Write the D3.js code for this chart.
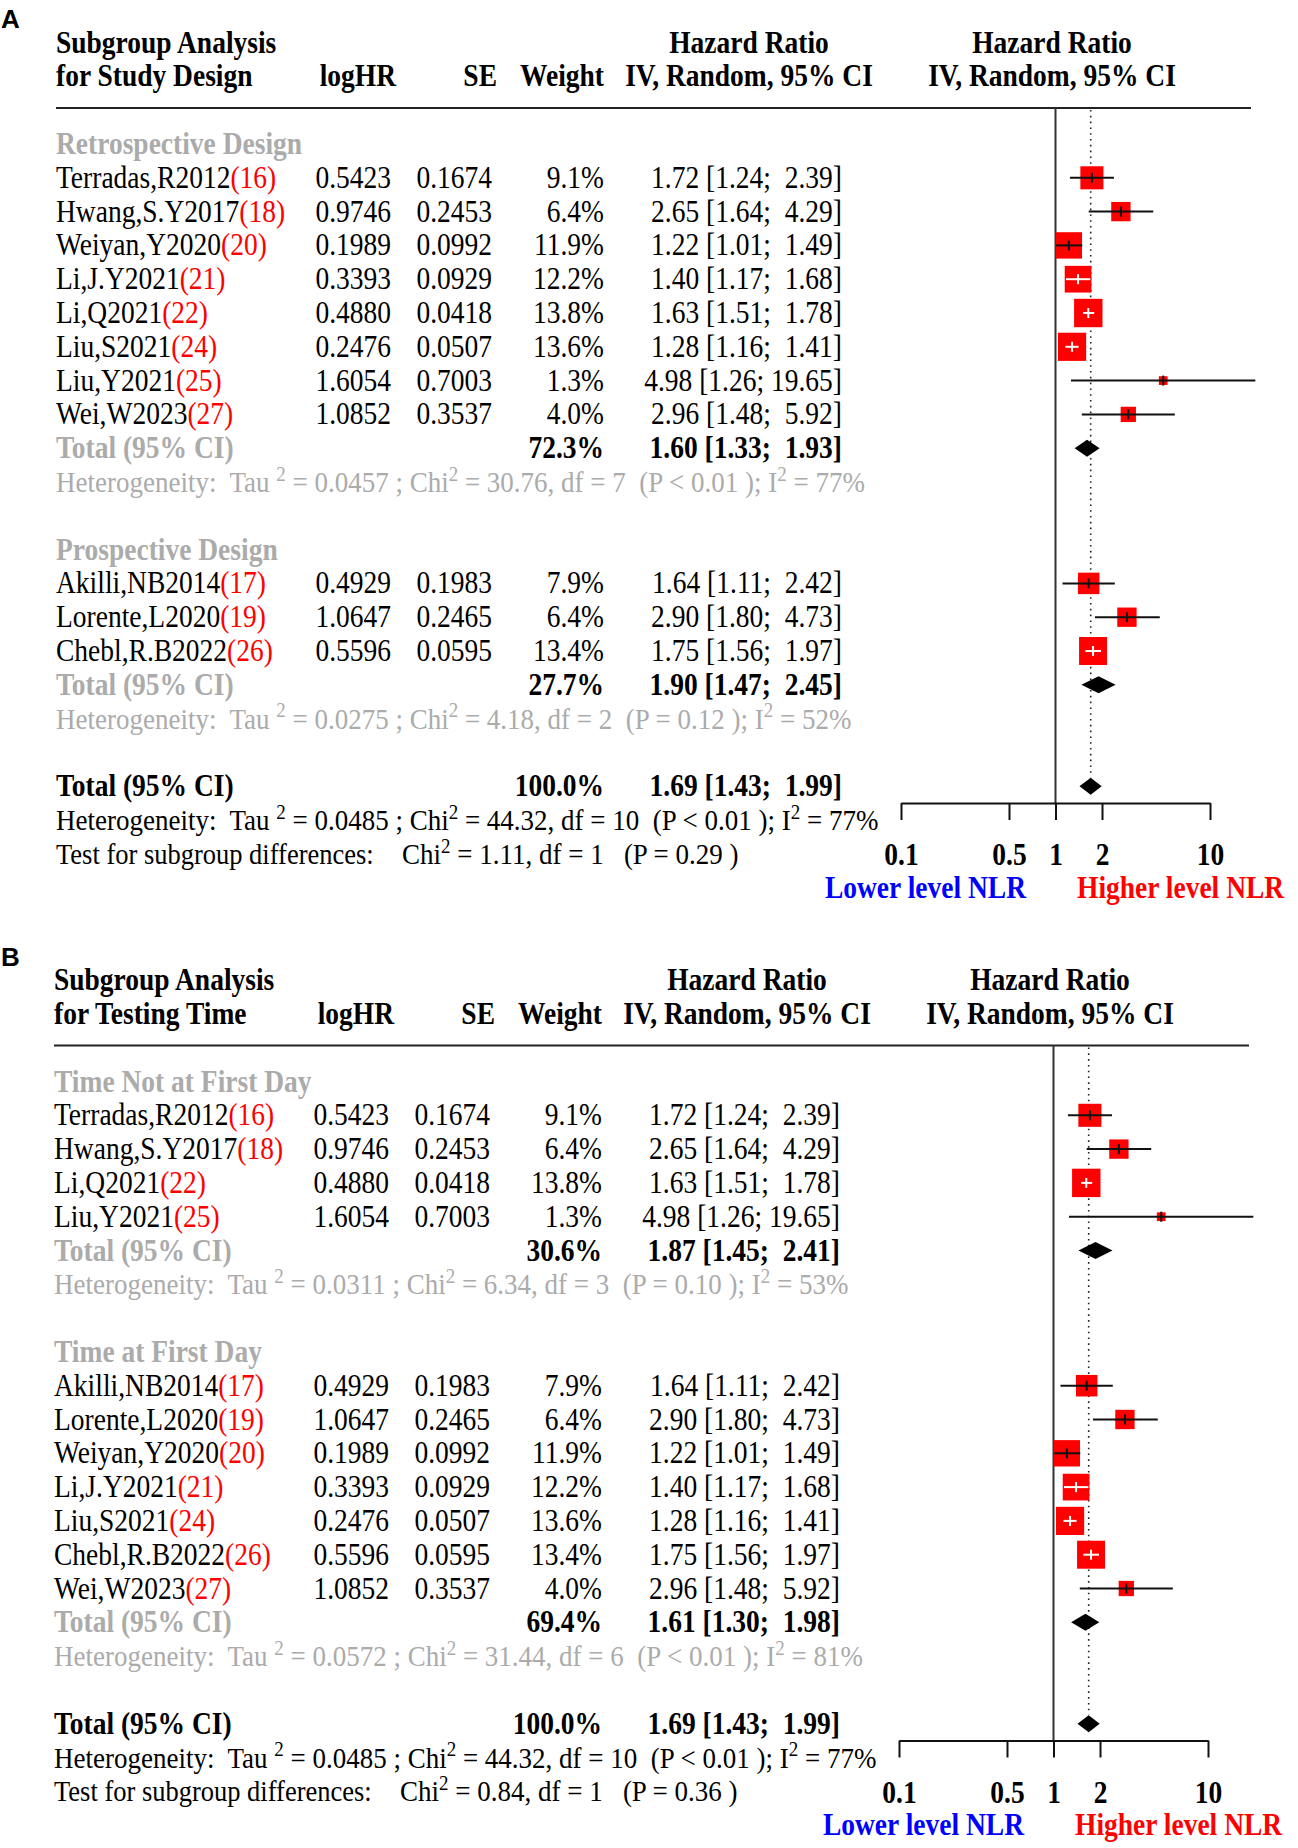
<!DOCTYPE html>
<html>
<head>
<meta charset="utf-8">
<script src="https://cdn.jsdelivr.net/npm/d3@7"></script>
<style>
  body { margin: 0; background: #fff; }
  text { font-family: "Liberation Serif", "Times New Roman", serif; white-space: pre; }
</style>
</head>
<body>
<svg id="chart" width="1298" height="1848"></svg>
<script>
// ---- study level data (same studies used in both panels) ----
const studyNames = ["Terradas,R2012", "Hwang,S.Y2017", "Weiyan,Y2020", "Li,J.Y2021", "Li,Q2021", "Liu,S2021",
                    "Liu,Y2021", "Wei,W2023", "Akilli,NB2014", "Lorente,L2020", "Chebl,R.B2022"];
const studyRefs  = [16, 18, 20, 21, 22, 24, 25, 27, 17, 19, 26];
const logHR      = ["0.5423", "0.9746", "0.1989", "0.3393", "0.4880", "0.2476", "1.6054", "1.0852", "0.4929", "1.0647", "0.5596"];
const seLogHR    = ["0.1674", "0.2453", "0.0992", "0.0929", "0.0418", "0.0507", "0.7003", "0.3537", "0.1983", "0.2465", "0.0595"];
const weightPct  = [9.1, 6.4, 11.9, 12.2, 13.8, 13.6, 1.3, 4.0, 7.9, 6.4, 13.4];
const hr         = [1.72, 2.65, 1.22, 1.40, 1.63, 1.28, 4.98, 2.96, 1.64, 2.90, 1.75];
const hrLower    = [1.24, 1.64, 1.01, 1.17, 1.51, 1.16, 1.26, 1.48, 1.11, 1.80, 1.56];
const hrUpper    = [2.39, 4.29, 1.49, 1.68, 1.78, 1.41, 19.65, 5.92, 2.42, 4.73, 1.97];

// ---- panel A: study design ----
const designTitles  = ["Retrospective Design", "Prospective Design"];
const designMembers = [[0, 1, 2, 3, 4, 5, 6, 7], [8, 9, 10]];
const designWeight  = [72.3, 27.7];
const designHR      = [1.60, 1.90];
const designLower   = [1.33, 1.47];
const designUpper   = [1.93, 2.45];
const designTau2    = ["0.0457", "0.0275"];
const designChi2    = ["30.76", "4.18"];
const designDf      = [7, 2];
const designP       = ["< 0.01", "= 0.12"];
const designI2      = [77, 52];
const designTest    = ["1.11", 1, "= 0.29"];

// ---- panel B: testing time ----
const timeTitles  = ["Time Not at First Day", "Time at First Day"];
const timeMembers = [[0, 1, 4, 6], [8, 9, 2, 3, 5, 10, 7]];
const timeWeight  = [30.6, 69.4];
const timeHR      = [1.87, 1.61];
const timeLower   = [1.45, 1.30];
const timeUpper   = [2.41, 1.98];
const timeTau2    = ["0.0311", "0.0572"];
const timeChi2    = ["6.34", "31.44"];
const timeDf      = [3, 6];
const timeP       = ["= 0.10", "< 0.01"];
const timeI2      = [53, 81];
const timeTest    = ["0.84", 1, "= 0.36"];

// ---- overall random effects result ----
const overall = [1.69, 1.43, 1.99];
const overallHet = ["0.0485", "44.32", 10, "< 0.01", 77];

const axisTicks = [0.1, 0.5, 1, 2, 10];

const GREY = "#ababab", RED = "#ff0000";
const FS = 27.5;   // font size
const SY = 1.12;   // the original figure is a bit stretched vertically

const svg = d3.select("#chart");
const x = d3.scaleLog().domain([0.1, 10]).range([901, 1210]);
const row = d3.scaleLinear().domain([0, 22]).range([154, 154 + 22 * 33.8]); // baselines
const size = d3.scaleSqrt().domain([0, 13.8]).range([0, 28.4]);            // box side

function label(g, px, py, str, o = {}) {
  const t = g.append("text")
    .attr("transform", `translate(${px},${py}) scale(1,${SY})`)
    .attr("text-anchor", o.anchor || "start")
    .attr("font-size", o.size || FS)
    .attr("font-weight", o.bold ? "bold" : "normal")
    .attr("fill", o.color || "#000");
  if (str != null) t.text(str);
  return t;
}
function sup(t) {
  t.append("tspan").attr("font-size", 19).attr("dy", -10).text("2");
  return t.append("tspan").attr("dy", 10);
}
function ci(v, lo, hi) {
  const u = hi.toFixed(2);
  return `${v.toFixed(2)} [${lo.toFixed(2)}; ${u.length < 5 ? " " : ""}${u}]`;
}
function hetLine(g, py, tau2, chi2, df, p, i2, color) {
  const t = label(g, 56, py, null, { color, size: 27 });
  t.append("tspan").text("Heterogeneity:  Tau ");
  sup(t).text(` = ${tau2} ; Chi`);
  sup(t).text(` = ${chi2}, df = ${df}  (P ${p} ); I`);
  sup(t).text(` = ${i2}%`);
}

function drawPanel(dx, dy, letter, line2, titles, members, gW, gHR, gLo, gHi, tau2, chi2, df, p, i2, test) {
  const g = svg.append("g").attr("transform", `translate(${dx},${dy})`);
  const cy = i => row(i) - 10;   // row centre

  g.append("text").attr("x", 1 - dx).attr("y", 28)
    .style("font-family", "'Liberation Sans', Arial, sans-serif")
    .attr("font-weight", "bold").attr("font-size", 26).text(letter);

  // header
  label(g, 56, 52.5, "Subgroup Analysis", { bold: true });
  label(g, 56, 86, line2, { bold: true });
  label(g, 396, 86, "logHR", { bold: true, anchor: "end" });
  label(g, 497, 86, "SE", { bold: true, anchor: "end" });
  label(g, 604, 86, "Weight", { bold: true, anchor: "end" });
  label(g, 749, 52.5, "Hazard Ratio", { bold: true, anchor: "middle" });
  label(g, 749, 86, "IV, Random, 95% CI", { bold: true, anchor: "middle" });
  label(g, 1052, 52.5, "Hazard Ratio", { bold: true, anchor: "middle" });
  label(g, 1052, 86, "IV, Random, 95% CI", { bold: true, anchor: "middle" });
  g.append("line").attr("x1", 56).attr("x2", 1251).attr("y1", 108).attr("y2", 108)
    .attr("stroke", "#222").attr("stroke-width", 2.2);

  // lay out the rows
  const studyRows = [], totalRows = [];
  let r = 0;
  titles.forEach((title, k) => {
    label(g, 56, row(r), title, { bold: true, color: GREY });
    r++;
    members[k].forEach(s => { studyRows.push({ s, r }); r++; });
    totalRows.push({ k, r });
    r++;
    hetLine(g, row(r), tau2[k], chi2[k], df[k], p[k], i2[k], GREY);
    r += 2;
  });
  const overallRow = r;

  const axisY = 803;
  const ref = x(1), est = x(overall[0]);
  g.append("line").attr("x1", ref).attr("x2", ref).attr("y1", 108).attr("y2", axisY)
    .attr("stroke", "#333").attr("stroke-width", 2);
  g.append("line").attr("x1", est).attr("x2", est).attr("y1", 110).attr("y2", cy(overallRow) - 9)
    .attr("stroke", "#222").attr("stroke-width", 1.6).attr("stroke-dasharray", "1.6,4.2");

  // study rows
  studyRows.forEach(({ s, r }) => {
    const t = label(g, 56, row(r), null);
    t.append("tspan").text(studyNames[s]);
    t.append("tspan").attr("fill", RED).text(`(${studyRefs[s]})`);
    label(g, 391, row(r), logHR[s], { anchor: "end" });
    label(g, 492, row(r), seLogHR[s], { anchor: "end" });
    label(g, 604, row(r), weightPct[s].toFixed(1) + "%", { anchor: "end" });
    label(g, 842, row(r), ci(hr[s], hrLower[s], hrUpper[s]), { anchor: "end" });

    const side = size(weightPct[s]), xc = x(hr[s]), yc = cy(r);
    const inside = x(hrLower[s]) >= xc - side / 2 && x(hrUpper[s]) <= xc + side / 2;
    const col = inside ? "#fff" : "#111";
    g.append("rect").attr("x", xc - side / 2).attr("y", yc - side / 2)
      .attr("width", side).attr("height", side).attr("fill", RED);
    g.append("line").attr("x1", x(hrLower[s])).attr("x2", x(hrUpper[s])).attr("y1", yc).attr("y2", yc)
      .attr("stroke", col).attr("stroke-width", 2);
    g.append("line").attr("x1", xc).attr("x2", xc).attr("y1", yc - 5).attr("y2", yc + 5)
      .attr("stroke", col).attr("stroke-width", 2);
  });

  function diamond(v, lo, hi, yc) {
    g.append("path")
      .attr("d", `M${x(lo)},${yc}L${x(v)},${yc - 8.5}L${x(hi)},${yc}L${x(v)},${yc + 8.5}Z`)
      .attr("fill", "#000");
  }

  // subgroup totals
  totalRows.forEach(({ k, r }) => {
    label(g, 56, row(r), "Total (95% CI)", { bold: true, color: GREY });
    label(g, 604, row(r), gW[k].toFixed(1) + "%", { bold: true, anchor: "end" });
    label(g, 842, row(r), ci(gHR[k], gLo[k], gHi[k]), { bold: true, anchor: "end" });
    diamond(gHR[k], gLo[k], gHi[k], cy(r));
  });

  // overall
  label(g, 56, row(overallRow), "Total (95% CI)", { bold: true });
  label(g, 604, row(overallRow), "100.0%", { bold: true, anchor: "end" });
  label(g, 842, row(overallRow), ci(overall[0], overall[1], overall[2]), { bold: true, anchor: "end" });
  diamond(overall[0], overall[1], overall[2], cy(overallRow));
  hetLine(g, row(overallRow + 1), ...overallHet, "#000");
  label(g, 56, row(overallRow + 2), "Test for subgroup differences:", { size: 26.5 });
  const tt = label(g, 402, row(overallRow + 2), null, { size: 27 });
  tt.append("tspan").text("Chi");
  sup(tt).text(` = ${test[0]}, df = ${test[1]}   (P ${test[2]} )`);

  // axis
  const ax = g.append("g").attr("transform", `translate(0,${axisY})`)
    .call(d3.axisBottom(x).tickValues(axisTicks).tickFormat(d => String(d)).tickSize(17).tickSizeOuter(0));
  ax.select(".domain").attr("stroke", "#111").attr("stroke-width", 2);
  ax.selectAll(".tick line").attr("stroke", "#111").attr("stroke-width", 2);
  ax.selectAll(".tick text")
    .attr("y", 0).attr("dy", 0)
    .attr("transform", `translate(0,62) scale(1,${SY})`)
    .attr("font-size", FS).attr("font-weight", "bold").attr("fill", "#000");
  ax.attr("font-family", null).attr("font-size", null);

  label(g, 1026, row(overallRow + 3), "Lower level NLR", { bold: true, anchor: "end", color: "#0000ff" });
  label(g, 1077, row(overallRow + 3), "Higher level NLR", { bold: true, color: RED });
}

drawPanel(0, 0, "A", "for Study Design", designTitles, designMembers, designWeight, designHR, designLower, designUpper,
  designTau2, designChi2, designDf, designP, designI2, designTest);
drawPanel(-2, 937.5, "B", "for Testing Time", timeTitles, timeMembers, timeWeight, timeHR, timeLower, timeUpper,
  timeTau2, timeChi2, timeDf, timeP, timeI2, timeTest);
</script>
</body>
</html>
